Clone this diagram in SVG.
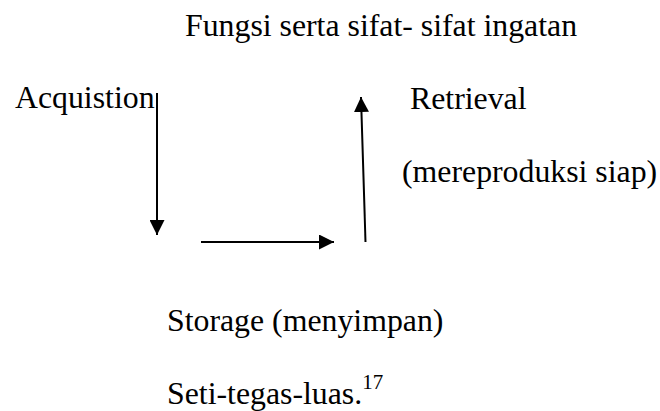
<svg xmlns="http://www.w3.org/2000/svg" width="660" height="411" viewBox="0 0 660 411">
<style>
.t text{font-family:'Liberation Serif','Times New Roman',serif;font-size:31.8px;fill:#000}
.c line{stroke:#000;stroke-width:2}
</style>
<defs>
<marker id="ah" viewBox="0 0 15 15" refX="15" refY="7.5" markerWidth="15" markerHeight="15" markerUnits="userSpaceOnUse" orient="auto"><path d="M0,0L15,7.5L0,15z" fill="#000"/></marker>
</defs>
<rect width="660" height="411" fill="#fff"/>
<g class="t">
<g id="title"><text x="185" y="36">Fungsi serta sifat- sifat ingatan</text></g>
<g id="acquistion"><text x="15" y="108">Acquistion</text></g>
<g id="retrieval"><text x="410" y="109">Retrieval</text><text x="402" y="182">(mereproduksi siap)</text></g>
<g id="storage"><text x="167" y="331">Storage (menyimpan)</text><text x="167" y="404">Seti-tegas-luas.<tspan font-size="21" style="font-size:21px" dy="-15">17</tspan></text></g>
</g>
<g class="c" id="connectors">
<line x1="157" y1="93" x2="157" y2="235" marker-end="url(#ah)"/>
<line x1="201" y1="242" x2="334" y2="242" marker-end="url(#ah)"/>
<line x1="365.5" y1="242" x2="361" y2="97" marker-end="url(#ah)"/>
</g>
</svg>
